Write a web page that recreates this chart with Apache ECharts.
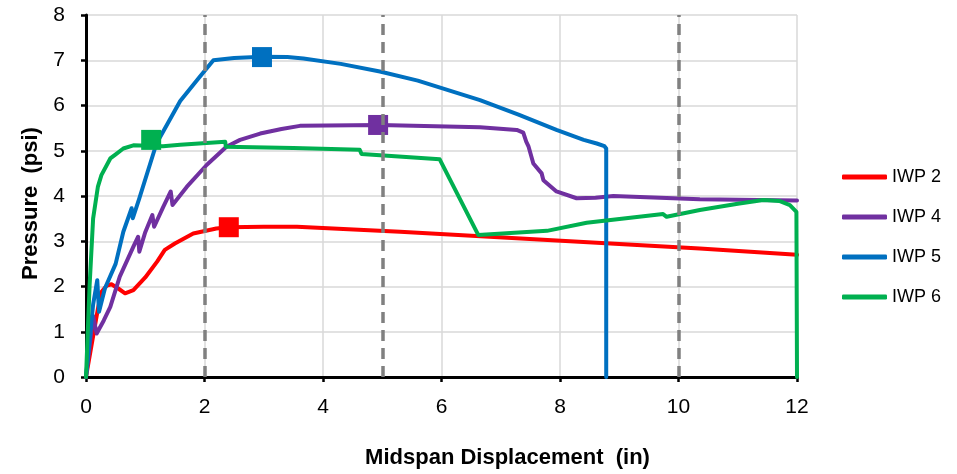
<!DOCTYPE html>
<html>
<head>
<meta charset="utf-8">
<script src="https://cdn.jsdelivr.net/npm/echarts@6/dist/echarts.min.js"></script>
<style>html,body{margin:0;padding:0;background:#fff;}#c{width:957px;height:474px;}</style>
</head>
<body>
<div id="c"></div>
<script>
// ---- data (displacement in, pressure psi) ----
const seriesNames = ['IWP 2', 'IWP 4', 'IWP 5', 'IWP 6'];
const iwp2 = [[0,0],[0.2,1.5],[0.26,1.88],[0.35,2.02],[0.43,2.05],[0.55,1.95],[0.66,1.85],[0.8,1.92],[1.0,2.2],[1.2,2.55],[1.33,2.81],[1.5,2.95],[1.81,3.17],[2.2,3.28],[2.41,3.31],[3.0,3.32],[3.56,3.32],[5.3,3.21],[10.36,2.84],[12,2.7]];
const iwp4 = [[0,0],[0.12,1.35],[0.18,0.96],[0.3,1.25],[0.41,1.55],[0.57,2.22],[0.8,2.88],[0.88,3.1],[0.9,2.77],[1.0,3.2],[1.12,3.58],[1.15,3.32],[1.3,3.75],[1.43,4.1],[1.46,3.8],[1.7,4.2],[2.04,4.69],[2.37,5.09],[2.6,5.24],[2.94,5.38],[3.3,5.48],[3.61,5.55],[4.96,5.57],[6.65,5.52],[7.27,5.46],[7.38,5.4],[7.43,5.2],[7.47,5.09],[7.55,4.72],[7.69,4.5],[7.72,4.35],[7.94,4.1],[8.28,3.95],[8.6,3.96],[8.9,4.0],[10.36,3.93],[12,3.9]];
const iwp5 = [[0,0],[0.12,1.6],[0.19,2.14],[0.22,1.44],[0.32,1.96],[0.5,2.5],[0.63,3.21],[0.77,3.73],[0.79,3.51],[0.9,3.95],[1.19,5.16],[1.59,6.1],[1.9,6.6],[2.15,7.0],[2.5,7.05],[2.97,7.08],[3.4,7.07],[3.67,7.04],[4.3,6.92],[4.96,6.75],[5.6,6.55],[6.65,6.12],[7.3,5.8],[7.94,5.46],[8.4,5.24],[8.62,5.16],[8.75,5.1],[8.78,5.05],[8.78,0]];
const iwp6 = [[0,0],[0.06,2.0],[0.12,3.5],[0.2,4.2],[0.26,4.46],[0.41,4.83],[0.49,4.91],[0.63,5.05],[0.8,5.12],[1.3,5.1],[1.59,5.13],[2.35,5.2],[2.36,5.09],[3.5,5.06],[4.62,5.02],[4.65,4.93],[5.97,4.81],[6.62,3.14],[7.78,3.23],[8.45,3.41],[9.74,3.6],[9.8,3.54],[10.36,3.69],[11.0,3.83],[11.43,3.91],[11.7,3.89],[11.88,3.8],[11.99,3.65],[12,0]];
const markerX = [2.41, 4.93, 2.97, 1.1];
const markerY = [3.31, 5.57, 7.07, 5.24];
const dashedX = [2, 5, 10];
const xTicks = [0, 2, 4, 6, 8, 10, 12];
const yTicks = [0, 1, 2, 3, 4, 5, 6, 7, 8];
const colors = ['#FF0000', '#7030A0', '#0070C0', '#00B050'];

const FONT = "'Liberation Sans', Arial, sans-serif";
const chart = echarts.init(document.getElementById('c'), null, {renderer: 'canvas'});
const lines = [iwp2, iwp4, iwp5, iwp6].map((d, i) => ({
  name: seriesNames[i], type: 'line', data: d, showSymbol: false, symbol: 'none',
  lineStyle: {color: colors[i], width: 4, join: 'round', cap: 'round'}, itemStyle: {color: colors[i]}, z: 2, animation: false
}));
chart.setOption({
  animation: false,
  grid: {left: 86, top: 15, right: 160, bottom: 97},
  xAxis: {
    type: 'value', min: xTicks[0], max: xTicks[xTicks.length - 1], interval: 2,
    name: 'Midspan Displacement  (in)', nameLocation: 'middle', nameGap: 70,
    nameTextStyle: {fontFamily: FONT, fontWeight: 'bold', fontSize: 22, color: '#000', padding: [0, 0, 0, 132]},
    axisLine: {lineStyle: {color: '#000', width: 3}},
    axisTick: {show: true, length: 5, lineStyle: {color: '#000', width: 2.5}},
    axisLabel: {fontFamily: FONT, fontSize: 21, color: '#000', margin: 20},
    splitLine: {show: true, lineStyle: {color: '#D9D9D9', width: 1.5}}
  },
  yAxis: {
    type: 'value', min: yTicks[0], max: yTicks[yTicks.length - 1], interval: 1,
    name: 'Pressure  (psi)', nameLocation: 'middle', nameGap: 44,
    nameTextStyle: {fontFamily: FONT, fontWeight: 'bold', fontSize: 22, color: '#000', padding: [0, 15, 0, 0]},
    axisLine: {show: true, lineStyle: {color: '#000', width: 3}},
    axisTick: {show: true, length: 5, lineStyle: {color: '#000', width: 2.5}},
    axisLabel: {fontFamily: FONT, fontSize: 21, color: '#000', margin: 21},
    splitLine: {show: true, lineStyle: {color: '#D9D9D9', width: 1.5}}
  },
  legend: {
    data: seriesNames, orient: 'vertical', left: 842, top: 167, itemGap: 20, padding: 0,
    itemWidth: 45, itemHeight: 5, icon: 'roundRect',
    textStyle: {fontFamily: FONT, fontSize: 18, color: '#000', lineHeight: 20}
  },
  series: lines.concat([
    {
      name: 'dashed', type: 'line', data: [], z: 3, silent: true,
      markLine: {
        silent: true, symbol: ['none', 'none'], label: {show: false},
        lineStyle: {color: '#808080', width: 3.5, type: [11, 7]},
        data: dashedX.map(v => ({xAxis: v})), animation: false
      }
    },
    {
      name: 'markers', type: 'scatter', symbol: 'rect', symbolSize: 20, z: 4,
      itemStyle: {opacity: 1},
      data: markerX.map((x, i) => ({value: [x, markerY[i]], itemStyle: {color: colors[i], opacity: 1}}))
    }
  ])
});
</script>
</body>
</html>
